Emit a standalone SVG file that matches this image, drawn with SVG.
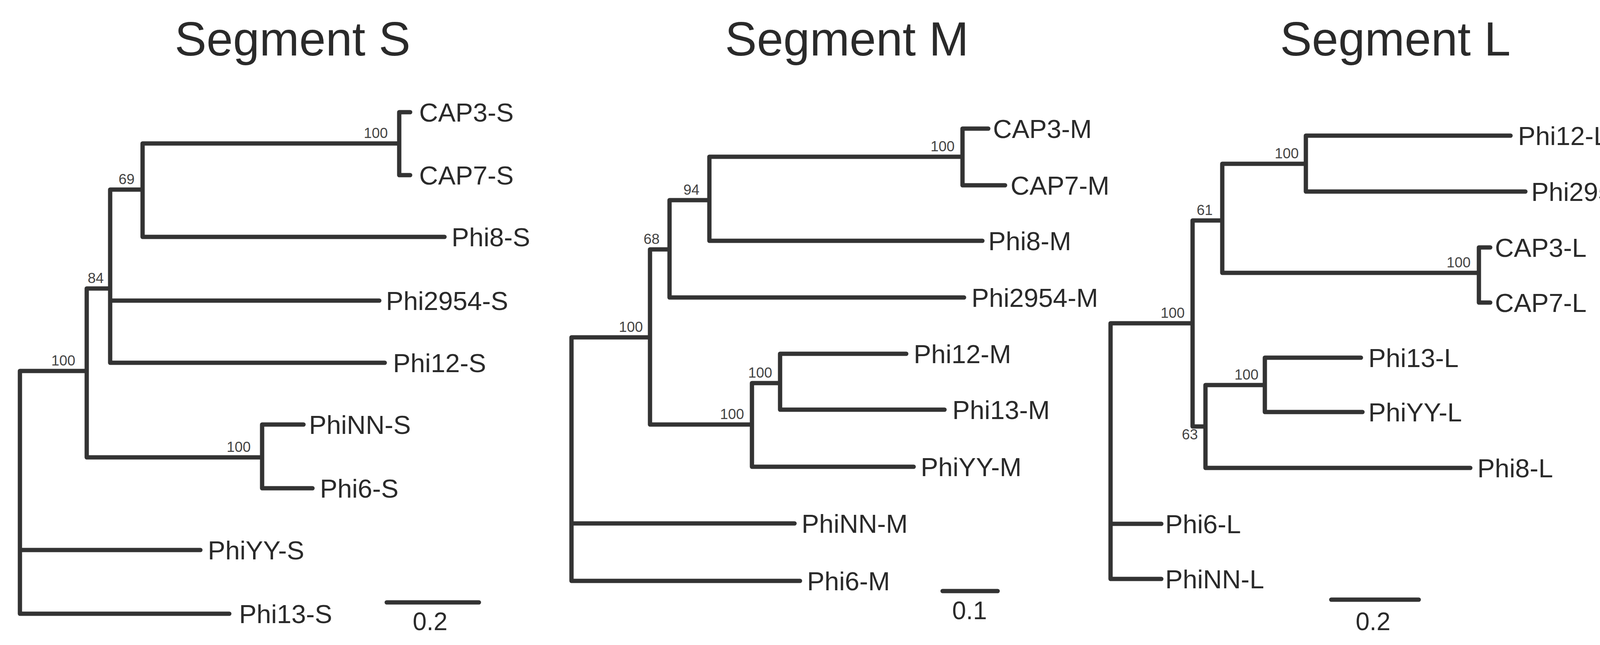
<svg xmlns="http://www.w3.org/2000/svg" width="4294" height="1650" viewBox="0 0 4294 1650">
<style>
.e{stroke:#333;stroke-width:11;fill:none;stroke-linecap:round;stroke-linejoin:round}
text{font-family:"Liberation Sans",Arial,sans-serif;fill:#2a2a2a}
.t{font-size:122px;text-anchor:middle}
.l{font-size:67px}
.b{font-size:37px;fill:#444;text-anchor:middle}
.s{font-size:64px;text-anchor:middle}
</style>
<rect width="4294" height="1650" fill="#fff"/>
<g id="connectors">
<path class="e" d="M51,949V1570H587M51,1407H513M51,949H222M222,738V1170M222,1170H671M671,1086V1249M671,1086H777M671,1249H800M222,738H282M282,485V928M282,928H985M282,769H971M282,485H365M365,367V606M365,606H1138M365,367H1022M1022,287V448M1022,287H1050M1022,448H1050M990,1541H1226"/>
<path class="e" d="M1463,863V1486H2048M1463,1339H2034M1463,863H1664M1664,638V1086M1664,1086H1925M1925,980V1194M1925,1194H2339M1925,980H1997M1997,905V1048M1997,905H2320M1997,1048H2418M1664,638H1714M1714,512V761M1714,761H2468M1714,512H1816M1816,401V616M1816,616H2515M1816,401H2464M2464,329V474M2464,329H2530M2464,474H2573M2413,1512H2554"/>
<path class="e" d="M2843,827V1481H2973M2843,1340H2973M2843,827H3053M3053,564V1091M3053,1091H3086M3086,985V1197M3086,1197H3764M3086,985H3238M3238,915V1054M3238,915H3484M3238,1054H3488M3053,564H3129M3129,419V698M3129,698H3786M3786,633V774M3786,633H3815M3786,774H3815M3129,419H3343M3343,347V490M3343,347H3867M3343,490H3905M3408,1534H3632"/>
</g>
<g id="segS">
<text class="t" x="749" y="142">Segment S</text>
<text class="l" x="1073" y="311">CAP3-S</text>
<text class="l" x="1073" y="472">CAP7-S</text>
<text class="l" x="1156" y="630">Phi8-S</text>
<text class="l" x="988" y="793">Phi2954-S</text>
<text class="l" x="1006" y="952">Phi12-S</text>
<text class="l" x="791" y="1110">PhiNN-S</text>
<text class="l" x="819" y="1273">Phi6-S</text>
<text class="l" x="532" y="1431">PhiYY-S</text>
<text class="l" x="612" y="1594">Phi13-S</text>
<text class="b" x="962" y="353">100</text>
<text class="b" x="324" y="471">69</text>
<text class="b" x="245" y="724">84</text>
<text class="b" x="162" y="935">100</text>
<text class="b" x="611" y="1156">100</text>
<text class="s" x="1101" y="1612">0.2</text>
</g>
<g id="segM">
<text class="t" x="2168" y="142">Segment M</text>
<text class="l" x="2542" y="353">CAP3-M</text>
<text class="l" x="2587" y="498">CAP7-M</text>
<text class="l" x="2530" y="640">Phi8-M</text>
<text class="l" x="2487" y="785">Phi2954-M</text>
<text class="l" x="2339" y="929">Phi12-M</text>
<text class="l" x="2438" y="1072">Phi13-M</text>
<text class="l" x="2357" y="1218">PhiYY-M</text>
<text class="l" x="2052" y="1363">PhiNN-M</text>
<text class="l" x="2066" y="1510">Phi6-M</text>
<text class="b" x="2413" y="387">100</text>
<text class="b" x="1770" y="498">94</text>
<text class="b" x="1668" y="624">68</text>
<text class="b" x="1615" y="849">100</text>
<text class="b" x="1946" y="966">100</text>
<text class="b" x="1874" y="1072">100</text>
<text class="s" x="2482" y="1584">0.1</text>
</g>
<g id="segL">
<text class="t" x="3572" y="142">Segment L</text>
<text class="l" x="3886" y="371">Phi12-L</text>
<text class="l" x="3920" y="514">Phi2954-L</text>
<text class="l" x="3827" y="657">CAP3-L</text>
<text class="l" x="3827" y="798">CAP7-L</text>
<text class="l" x="3503" y="939">Phi13-L</text>
<text class="l" x="3503" y="1078">PhiYY-L</text>
<text class="l" x="3782" y="1221">Phi8-L</text>
<text class="l" x="2983" y="1364">Phi6-L</text>
<text class="l" x="2983" y="1505">PhiNN-L</text>
<text class="b" x="3294" y="405">100</text>
<text class="b" x="3084" y="550">61</text>
<text class="b" x="3734" y="684">100</text>
<text class="b" x="3002" y="813">100</text>
<text class="b" x="3191" y="971">100</text>
<text class="b" x="3046" y="1124">63</text>
<text class="s" x="3515" y="1612">0.2</text>
</g>
</svg>
